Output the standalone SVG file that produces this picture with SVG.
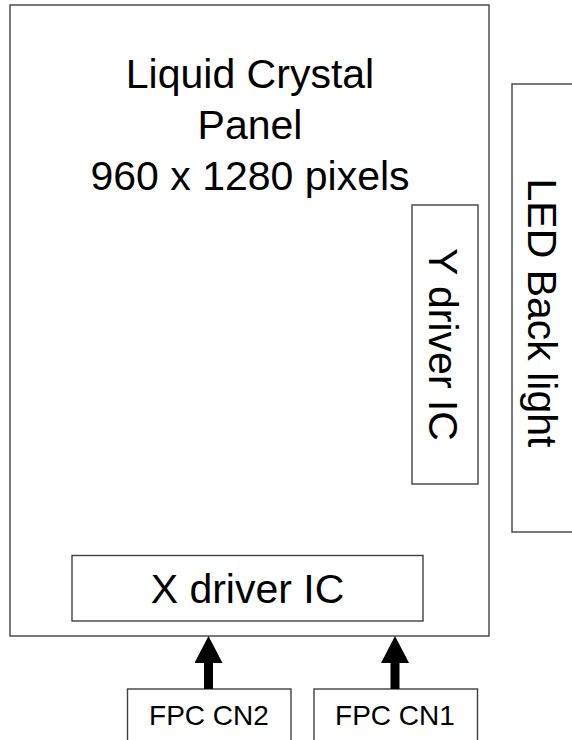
<svg xmlns="http://www.w3.org/2000/svg" width="572" height="740" viewBox="0 0 572 740">
<style>
.box{fill:#ffffff;stroke:#404040;stroke-width:1.4}
.t{font-family:"Liberation Sans",Arial,sans-serif;fill:#000000;text-anchor:middle}
.big{font-size:41px}
.small{font-size:28px}
.arr{stroke:#000000;stroke-width:9;fill:none}
</style>
<defs>
<marker id="head" markerUnits="userSpaceOnUse" markerWidth="28" markerHeight="28" viewBox="0 0 28 28" refX="0" refY="14" orient="auto">
<path d="M0,0 L27,14 L0,28 z" fill="#000000"/>
</marker>
</defs>
<rect width="572" height="740" fill="#ffffff"/>
<g id="panel">
<rect class="box" x="10" y="5" width="479" height="631"/>
<text class="t big" x="250" y="88">Liquid Crystal</text>
<text class="t big" x="250" y="139">Panel</text>
<text class="t big" x="250" y="190">960 x 1280 pixels</text>
</g>
<g id="ydriver">
<rect class="box" x="412" y="205" width="66" height="279"/>
<text class="t big" transform="translate(428.5,344.5) rotate(90)">Y driver IC</text>
</g>
<g id="xdriver">
<rect class="box" x="72" y="555.5" width="351" height="65.5"/>
<text class="t big" x="247.5" y="602.5">X driver IC</text>
</g>
<g id="backlight">
<rect class="box" x="512" y="84" width="80" height="448"/>
<text class="t big" transform="translate(528,313) rotate(90)">LED Back light</text>
</g>
<g id="fpc2">
<rect class="box" x="127.5" y="689" width="163.5" height="70"/>
<text class="t small" x="209" y="725">FPC CN2</text>
</g>
<g id="fpc1">
<rect class="box" x="314" y="689" width="163.5" height="70"/>
<text class="t small" x="395" y="725">FPC CN1</text>
</g>
<g id="connectors">
<line class="arr" x1="208.5" y1="689" x2="208.5" y2="663" marker-end="url(#head)"/>
<line class="arr" x1="395" y1="689" x2="395" y2="663" marker-end="url(#head)"/>
</g>
</svg>
